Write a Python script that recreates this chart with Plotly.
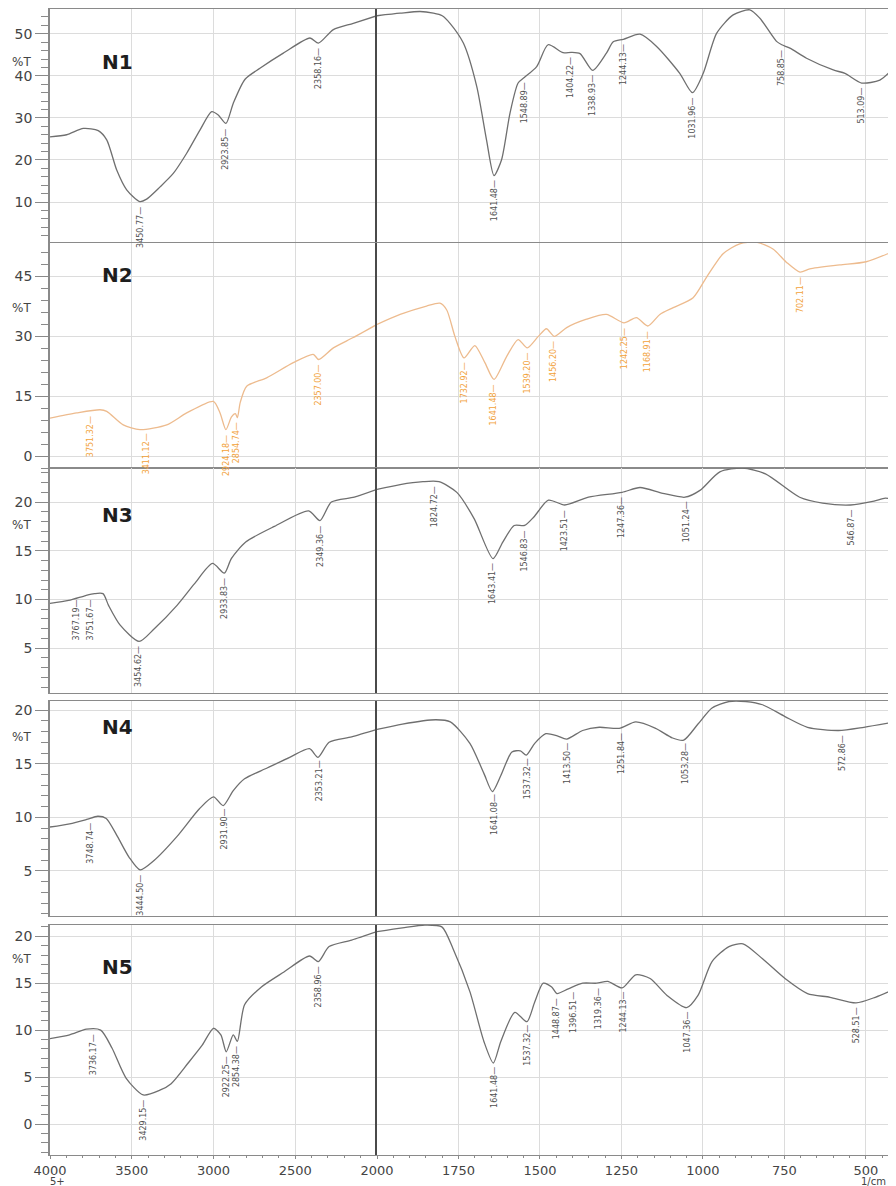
import numpy as np
import plotly.graph_objects as go

# ---------------- data (wavenumber cm-1, %T) ----------------
wn1 = [4000, 3898, 3796, 3705, 3653, 3592, 3531, 3451, 3409, 3327, 3246, 3164, 3083, 3011, 2971, 2924, 2879, 2807, 2716, 2573,
       2410, 2358, 2267, 2145, 2000, 1929, 1868, 1827, 1800, 1776, 1735, 1694, 1664, 1641, 1618, 1592, 1567, 1548, 1510, 1475,
       1429, 1404, 1377, 1338, 1296, 1275, 1244, 1193, 1142, 1071, 1032, 999, 958, 907, 856, 825, 774, 758, 733, 682,
       600, 564, 513, 457, 410]
t1 = [25.5, 26.0, 27.5, 27.0, 24.8, 17.6, 12.9, 10.1, 10.7, 13.6, 16.8, 21.6, 27.1, 31.5, 30.7, 28.7, 33.5, 39.2, 41.8, 45.4,
      49.0, 47.8, 51.0, 52.5, 54.3, 54.9, 55.3, 54.9, 54.3, 52.5, 47.8, 37.5, 24.8, 16.3, 20.0, 31.1, 38.3, 39.6, 42.2, 47.4,
      45.5, 45.6, 45.3, 41.3, 45.4, 48.1, 48.7, 49.9, 47.0, 40.6, 36.0, 40.6, 50.1, 54.5, 55.7, 53.7, 48.2, 47.4, 46.6, 44.2,
      41.4, 40.6, 38.3, 39.0, 42.2]

wn2 = [4000, 3837, 3694, 3653, 3552, 3450, 3286, 3164, 3001, 2960, 2924, 2890, 2866, 2854, 2836, 2797, 2675, 2512, 2390, 2357,
       2267, 2145, 2000, 1929, 1848, 1807, 1786, 1761, 1733, 1700, 1669, 1641, 1602, 1567, 1539, 1505, 1480, 1456, 1418, 1357,
       1296, 1242, 1204, 1169, 1132, 1091, 1030, 989, 938, 887, 836, 785, 744, 702, 672, 580, 499, 410]
t2 = [9.5, 10.8, 11.6, 11.2, 7.8, 6.6, 7.8, 10.8, 13.7, 10.8, 6.6, 9.8, 10.6, 9.6, 13.5, 17.5, 19.6, 23.4, 25.5, 24.2,
      27.1, 29.7, 33.0, 35.5, 37.6, 38.3, 36.6, 30.0, 24.6, 27.7, 23.4, 19.2, 25.0, 29.2, 27.1, 30.0, 31.9, 30.0, 32.2, 34.3,
      35.5, 33.4, 34.7, 32.6, 35.5, 37.2, 39.7, 44.8, 50.7, 53.2, 53.6, 51.9, 48.6, 46.1, 46.9, 47.9, 48.7, 51.5]

wn3 = [4000, 3886, 3782, 3729, 3676, 3642, 3572, 3455, 3362, 3223, 3117, 3006, 2934, 2891, 2803, 2628, 2418, 2349, 2279, 2139,
       2000, 1929, 1859, 1810, 1755, 1702, 1644, 1614, 1579, 1547, 1518, 1474, 1424, 1351, 1248, 1193, 1123, 1055, 1009, 948,
       878, 808, 703, 633, 547, 475, 440, 410]
t3 = [9.6, 9.9, 10.4, 10.6, 10.6, 9.4, 7.4, 5.7, 7.0, 9.4, 11.6, 13.7, 12.7, 14.2, 15.9, 17.5, 19.1, 18.1, 20.0, 20.5,
      21.3, 21.8, 22.1, 22.1, 21.0, 18.3, 14.2, 15.9, 17.6, 17.6, 18.5, 20.2, 19.7, 20.5, 21.0, 21.5, 20.9, 20.5, 21.2, 23.1,
      23.5, 22.9, 20.5, 19.9, 19.7, 20.1, 20.4, 20.2]

wn4 = [4000, 3880, 3777, 3708, 3656, 3587, 3517, 3449, 3362, 3224, 3086, 3000, 2941, 2879, 2810, 2672, 2534, 2413, 2361, 2293,
       2155, 2000, 1922, 1819, 1775, 1715, 1672, 1646, 1620, 1586, 1560, 1542, 1516, 1482, 1447, 1418, 1369, 1318, 1257, 1206,
       1145, 1093, 1059, 1015, 972, 920, 868, 817, 748, 679, 584, 506, 410]
t4 = [9.1, 9.4, 9.8, 10.1, 9.9, 8.2, 6.3, 5.1, 6.0, 8.2, 10.8, 11.9, 11.1, 12.5, 13.6, 14.6, 15.6, 16.4, 15.6, 17.0,
      17.5, 18.2, 18.7, 19.1, 18.9, 16.9, 14.1, 12.4, 13.9, 16.1, 16.2, 15.8, 16.9, 17.8, 17.6, 17.3, 18.1, 18.4, 18.3, 18.9,
      18.3, 17.4, 17.2, 18.7, 20.2, 20.8, 20.8, 20.5, 19.4, 18.4, 18.1, 18.4, 18.9]

wn5 = [4000, 3880, 3777, 3690, 3621, 3535, 3430, 3328, 3259, 3155, 3069, 3000, 2955, 2922, 2879, 2854, 2810, 2707, 2569, 2413,
       2359, 2293, 2155, 2000, 1922, 1853, 1801, 1767, 1715, 1672, 1643, 1620, 1577, 1540, 1516, 1490, 1464, 1448, 1413, 1369,
       1326, 1292, 1248, 1206, 1162, 1110, 1050, 1015, 972, 920, 877, 817, 748, 679, 610, 530, 471, 410]
t5 = [9.1, 9.5, 10.1, 10.0, 8.1, 4.9, 3.1, 3.6, 4.3, 6.5, 8.4, 10.2, 9.5, 7.7, 9.5, 8.8, 12.7, 14.6, 16.2, 17.9,
      17.3, 18.9, 19.6, 20.5, 20.9, 21.2, 21.0, 18.7, 14.1, 8.8, 6.5, 8.8, 11.9, 10.9, 13.0, 15.0, 14.6, 13.9, 14.4, 15.0,
      15.0, 15.2, 14.5, 15.9, 15.5, 13.7, 12.4, 13.7, 17.3, 18.9, 19.2, 17.6, 15.5, 13.9, 13.5, 12.9, 13.5, 14.4]

peaks1 = ["3450.77", "2923.85", "2358.16", "1641.48", "1548.89", "1404.22", "1338.93", "1244.13", "1031.96", "758.85", "513.09"]
peaks2 = ["3751.32", "3411.12", "2924.18", "2854.74", "2357.00", "1732.92", "1641.48", "1539.20", "1456.20", "1242.25",
          "1168.91", "702.11"]
peaks3 = ["3767.19", "3751.67", "3454.62", "2933.83", "2349.36", "1824.72", "1643.41", "1546.83", "1423.51", "1247.36",
          "1051.24", "546.87"]
peaks4 = ["3748.74", "3444.50", "2931.90", "2353.21", "1641.08", "1537.32", "1413.50", "1251.84", "1053.28", "572.86"]
peaks5 = ["3736.17", "3429.15", "2922.25", "2854.38", "2358.96", "1641.48", "1537.32", "1448.87", "1396.51", "1319.36",
          "1244.13", "1047.36", "528.51"]

names = ["N1", "N2", "N3", "N4", "N5"]
yticks = [[10, 20, 30, 40, 50], [0, 15, 30, 45], [5, 10, 15, 20], [5, 10, 15, 20], [0, 5, 10, 15, 20]]
xticks_hi = [4000, 3500, 3000, 2500, 2000]
xticks_lo = [1750, 1500, 1250, 1000, 750, 500]

curves = [(wn1, t1), (wn2, t2), (wn3, t3), (wn4, t4), (wn5, t5)]
peaks = [peaks1, peaks2, peaks3, peaks4, peaks5]

# ---------------- styling / layout ----------------
# the page body adds an 8px margin, so the figure is sized/offset to fit the window
OFF = 8
W, H = 896 - 2 * OFF, 1186 - OFF


def fx(px):
    return (px - OFF) / W


def fy(py):
    return 1 - (py - OFF) / H


panel_px = [(9, 242), (243, 468), (468, 693), (701, 916), (925, 1155)]
yranges = [(0.5, 55.9), (-3.0, 53.4), (0.4, 23.5), (0.8, 20.85), (-3.3, 21.2)]
minor_dt = [2, 3, 1, 1, 1]
pt_label_y = [62, 308, 525, 737, 959]
name_y = [62, 275, 515, 727, 967]
line_colors = ["#6f6f6f", "#EDBB8E", "#6f6f6f", "#6f6f6f", "#6f6f6f"]
label_colors = ["#505050", "#F2A23A", "#505050", "#505050", "#505050"]
label_xshift = {(2, "3767.19"): -12}

xl0, xsplit = fx(50), fx(377)
FONT = "DejaVu Sans"
GRID = "#dcdcdc"
AX = "#8a8a8a"

fig = go.Figure()
layout = dict(width=W, height=H, margin=dict(l=0, r=0, t=0, b=0, autoexpand=False),
              paper_bgcolor="white", plot_bgcolor="white", showlegend=False)
annotations = []

for i in range(5):
    a, b = 2 * i + 1, 2 * i + 2
    wn = np.array(curves[i][0], dtype=float)
    tv = np.array(curves[i][1], dtype=float)
    hi = wn >= 2000
    lo = wn <= 2000
    for idx, mask in ((a, hi), (b, lo)):
        fig.add_trace(go.Scatter(x=wn[mask], y=tv[mask], mode="lines",
                                 line=dict(color=line_colors[i], width=1.3, shape="spline", smoothing=0.7),
                                 xaxis=f"x{idx}", yaxis=f"y{idx}", hoverinfo="skip"))
    top, bot = panel_px[i]
    ydom = [fy(bot), min(1.0, fy(top))]
    last = (i == 4)
    ytickfont = dict(family=FONT, size=14, color="#444")
    xtickfont = dict(family=FONT, size=13, color="#444")
    common_x = dict(showticklabels=last, ticks="outside" if last else "", ticklen=3,
                    tickcolor=AX, tickfont=xtickfont, automargin=False,
                    showgrid=True, gridcolor=GRID, gridwidth=1, zeroline=False,
                    showline=True, linecolor=AX, linewidth=1, mirror=True)
    layout[f"xaxis{a}"] = dict(domain=[xl0, xsplit], range=[4000, 2000], anchor=f"y{a}",
                               tickvals=xticks_hi, ticktext=[str(v) for v in xticks_hi],
                               minor=dict(dtick=100, ticks="outside" if last else "", ticklen=2,
                                          tickcolor=AX, showgrid=False), **common_x)
    layout[f"xaxis{b}"] = dict(domain=[xsplit, 1.0], range=[2000, 432], anchor=f"y{b}",
                               tickvals=xticks_lo, ticktext=[str(v) for v in xticks_lo],
                               minor=dict(dtick=50, ticks="outside" if last else "", ticklen=2,
                                          tickcolor=AX, showgrid=False), **common_x)
    layout[f"yaxis{a}"] = dict(domain=ydom, range=list(yranges[i]), anchor=f"x{a}", automargin=False,
                               tickvals=yticks[i], ticktext=[str(v) for v in yticks[i]],
                               ticks="outside", ticklen=13, tickcolor=AX, tickwidth=1,
                               tickfont=ytickfont, showgrid=True, gridcolor=GRID, zeroline=False,
                               showline=True, linecolor=AX, linewidth=1.5,
                               minor=dict(dtick=minor_dt[i], ticks="outside", ticklen=7,
                                          tickcolor=AX, showgrid=False))
    layout[f"yaxis{b}"] = dict(domain=ydom, range=list(yranges[i]), anchor=f"x{b}", matches=f"y{a}",
                               automargin=False,
                               tickvals=yticks[i], showticklabels=False, ticks="",
                               showgrid=True, gridcolor=GRID, zeroline=False,
                               showline=True, linecolor="#4a4a4a", linewidth=2)

    # panel name
    annotations.append(dict(xref="paper", yref="paper", x=fx(100), y=fy(name_y[i]),
                            xanchor="left", yanchor="middle", showarrow=False,
                            text=f"<b>{names[i]}</b>", font=dict(family=FONT, size=20, color="#1e1e1e")))
    # %T axis caption
    annotations.append(dict(xref="paper", yref="paper", x=fx(33), y=fy(pt_label_y[i]),
                            xanchor="right", yanchor="middle", showarrow=False,
                            text="%T", font=dict(family=FONT, size=12, color="#444")))
    # peak labels
    for txt in peaks[i]:
        w = float(txt)
        yv = float(np.interp(w, wn[::-1], tv[::-1]))
        ax_i = a if w >= 2000 else b
        annotations.append(dict(xref=f"x{ax_i}", yref=f"y{ax_i}", x=w, y=yv,
                                xanchor="center", yanchor="top", yshift=-3,
                                xshift=label_xshift.get((i, txt), 0),
                                textangle=-90, showarrow=False, text=txt + "\u2014",
                                font=dict(family=FONT, size=8, color=label_colors[i])))

annotations.append(dict(xref="paper", yref="paper", x=fx(57), y=fy(1181), xanchor="center",
                        yanchor="middle", showarrow=False, text="5+",
                        font=dict(family=FONT, size=10, color="#444")))
annotations.append(dict(xref="paper", yref="paper", x=1.0, y=fy(1181), xanchor="right",
                        yanchor="middle", showarrow=False, text="1/cm",
                        font=dict(family=FONT, size=10, color="#444")))

layout["annotations"] = annotations
fig.update_layout(**layout)
fig.write_html("out.html")
